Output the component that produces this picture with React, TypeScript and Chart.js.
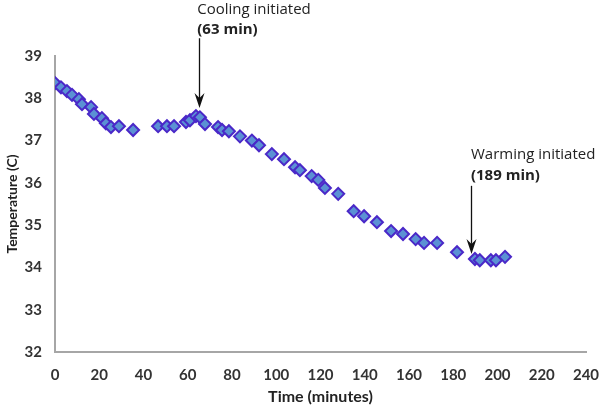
import React, { useEffect, useRef } from "react";
import { Chart, registerables } from "chart.js";

Chart.register(...registerables);

// Time (minutes) and temperature (°C) readings
const times = [
  0, 2.7, 5.4, 7.7, 10.8, 12.2, 16.3, 17.6, 21.2, 23, 25.3, 28.9, 35.3,
  46.6, 50.6, 53.8, 59.2, 61, 63.7, 65.5, 67.8, 73.7, 75.5, 78.6, 83.6,
  89, 92.2, 98, 103.5, 108.5, 110.7, 116, 119, 122, 128, 135, 139.7,
  145.5, 151.9, 157.3, 163, 166.8, 172.7, 181.7, 189.8, 192, 197, 199.3,
  203.4,
];
const temps = [
  38.36, 38.26, 38.17, 38.08, 37.98, 37.86, 37.79, 37.63, 37.53, 37.41,
  37.32, 37.34, 37.25, 37.34, 37.34, 37.34, 37.44, 37.48, 37.58, 37.55,
  37.39, 37.32, 37.25, 37.22, 37.1, 37.0, 36.89, 36.68, 36.56, 36.37,
  36.3, 36.16, 36.07, 35.88, 35.74, 35.33, 35.21, 35.07, 34.86, 34.79,
  34.67, 34.58, 34.58, 34.36, 34.2, 34.17, 34.17, 34.17, 34.25,
];

const xTicks = [0, 20, 40, 60, 80, 100, 120, 140, 160, 180, 200, 220, 240];
const yTicks = [32, 33, 34, 35, 36, 37, 38, 39];

// Annotations (data coordinates)
const noteLine1 = ["Cooling initiated", "Warming initiated"];
const noteLine2 = ["(63 min)", "(189 min)"];
const noteTextX = [64.3, 188.0];
const noteTextY1 = [40.1, 36.66];
const noteTextY2 = [39.61, 36.16];
const arrowX = [65, 188];
const arrowTop = [39.42, 35.93];
const arrowTip = [37.77, 34.32];

const FONT = "Lato, 'Open Sans', sans-serif";
const NOTE_FONT = "'Open Sans', Lato, sans-serif";

const annotationPlugin = {
  id: "notes",
  afterDraw(chart: any) {
    const { ctx, scales } = chart;
    const xs = scales.x;
    const ys = scales.y;
    ctx.save();
    for (let i = 0; i < arrowX.length; i++) {
      const x = Math.round(xs.getPixelForValue(arrowX[i])) + 0.5;
      const yTop = ys.getPixelForValue(arrowTop[i]);
      const yTip = ys.getPixelForValue(arrowTip[i]);
      ctx.strokeStyle = "#111";
      ctx.fillStyle = "#111";
      ctx.lineWidth = 1.3;
      ctx.beginPath();
      ctx.moveTo(x, yTop);
      ctx.lineTo(x, yTip - 10);
      ctx.stroke();
      ctx.beginPath();
      ctx.moveTo(x - 5, yTip - 15);
      ctx.lineTo(x, yTip - 10);
      ctx.lineTo(x + 5, yTip - 15);
      ctx.lineTo(x, yTip);
      ctx.closePath();
      ctx.fill();

      const tx = xs.getPixelForValue(noteTextX[i]);
      ctx.textAlign = "left";
      ctx.textBaseline = "middle";
      ctx.fillStyle = "#222";
      ctx.font = `15px ${NOTE_FONT}`;
      ctx.fillText(noteLine1[i], tx, ys.getPixelForValue(noteTextY1[i]));
      ctx.font = `bold 15px ${NOTE_FONT}`;
      ctx.fillText(noteLine2[i], tx, ys.getPixelForValue(noteTextY2[i]));
    }
    ctx.restore();
  },
};

export default function App() {
  const ref = useRef<HTMLCanvasElement>(null);

  useEffect(() => {
    document.body.style.margin = "0";
    const canvas = ref.current;
    if (!canvas) return;
    const chart = new Chart(canvas, {
      type: "scatter",
      data: {
        datasets: [
          {
            label: "Temperature",
            data: times.map((t, i) => ({ x: t, y: temps[i] })),
            pointStyle: "rectRot",
            pointRadius: 6,
            pointHoverRadius: 6,
            backgroundColor: "#5b91d4",
            borderColor: "#4a28c8",
            borderWidth: 2,
            showLine: false,
          },
        ],
      },
      options: {
        animation: false,
        responsive: true,
        maintainAspectRatio: false,
        layout: { padding: { top: 56, right: 14, left: 0, bottom: 0 } },
        plugins: {
          legend: { display: false },
          tooltip: { enabled: false },
        },
        scales: {
          x: {
            type: "linear",
            min: 0,
            max: 240,
            afterBuildTicks: (s: any) => {
              s.ticks = xTicks.map((v) => ({ value: v }));
            },
            afterFit: (s: any) => {
              s.height = 55;
              s.paddingLeft = 0;
              s.paddingRight = 0;
            },
            grid: { color: "transparent", drawTicks: false },
            border: { display: true, color: "#a6a6a6", width: 2 },
            ticks: {
              padding: 14,
              color: "#333",
              font: { family: FONT, size: 15, weight: "bold" },
              maxRotation: 0,
            },
            title: {
              display: true,
              text: "Time (minutes)",
              color: "#222",
              font: { family: FONT, size: 16, weight: "bold" },
              padding: { top: 0, bottom: 1 },
            },
          },
          y: {
            type: "linear",
            min: 32,
            max: 39,
            afterBuildTicks: (s: any) => {
              s.ticks = yTicks.map((v) => ({ value: v }));
            },
            afterFit: (s: any) => {
              s.width = 55;
            },
            grid: { color: "transparent", drawTicks: false },
            border: { display: true, color: "#a6a6a6", width: 2 },
            ticks: {
              padding: 13,
              color: "#333",
              font: { family: FONT, size: 15, weight: "bold" },
            },
            title: {
              display: true,
              text: "Temperature (C)",
              color: "#222",
              font: { family: FONT, size: 14, weight: "bold" },
              padding: { top: 4, bottom: 0 },
            },
          },
        },
      },
      plugins: [annotationPlugin],
    });
    return () => chart.destroy();
  }, []);

  return (
    <div style={{ width: 600, height: 407, position: "relative" }}>
      <canvas ref={ref} />
    </div>
  );
}
